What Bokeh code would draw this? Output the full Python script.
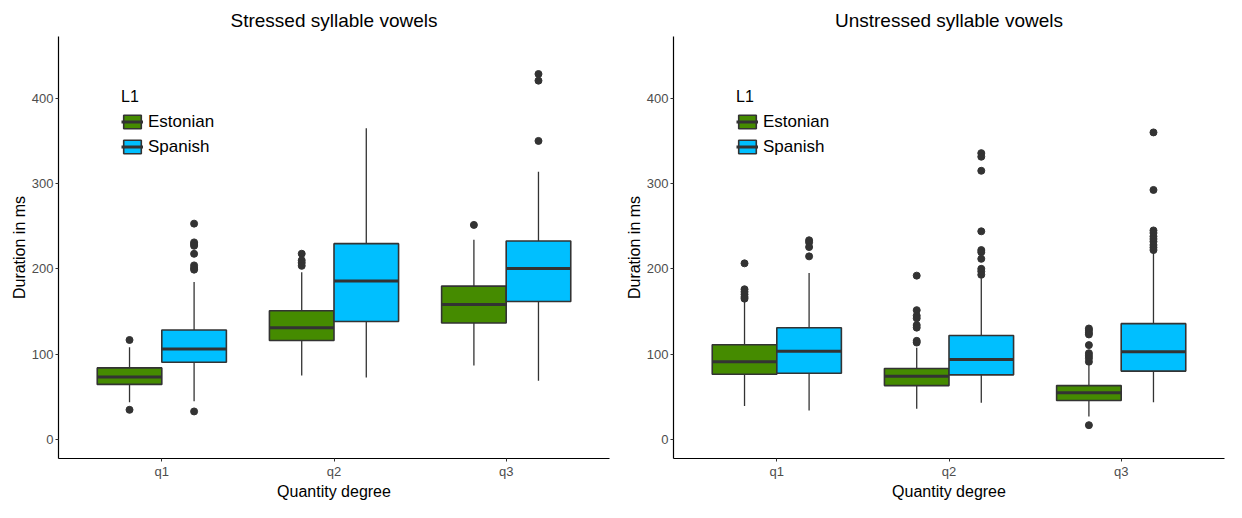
import numpy as np
from bokeh.plotting import figure
from bokeh.models import Range1d, FixedTicker, Legend, LegendItem, ColumnDataSource
from bokeh.layouts import row
from bokeh.embed import file_html
from bokeh.resources import INLINE

categories = ["q1", "q2", "q3"]
groups = ["Estonian", "Spanish"]
colors = ["#458B00", "#00BFFF"]
y_ticks = [0, 100, 200, 300, 400]

# ---- Stressed syllable vowels ----
st_est_low = [43.6, 74.8, 86.5]
st_est_q1 = [64.4, 116.0, 136.5]
st_est_med = [73.0, 131.0, 158.0]
st_est_q3 = [83.8, 150.8, 179.7]
st_est_high = [108.0, 196.0, 234.0]
st_est_out = [[116.5, 34.6], [217.7, 210.0, 207.0, 203.5], [251.5]]

st_spa_low = [44.8, 72.5, 68.8]
st_spa_q1 = [90.4, 138.2, 161.6]
st_spa_med = [105.9, 185.7, 200.4]
st_spa_q3 = [128.2, 229.5, 232.7]
st_spa_high = [184.6, 365.0, 314.0]
st_spa_out = [[253.0, 231.0, 229.0, 227.0, 217.6, 204.0, 201.0, 199.0, 32.7], [], [428.5, 420.7, 350.0]]

# ---- Unstressed syllable vowels ----
un_est_low = [39.0, 36.0, 26.7]
un_est_q1 = [76.3, 63.0, 45.5]
un_est_med = [91.0, 74.0, 54.5]
un_est_q3 = [110.9, 83.0, 63.0]
un_est_high = [161.0, 107.5, 86.8]
un_est_out = [[206.4, 176.0, 173.0, 170.0, 167.0, 165.0],
              [192.0, 151.5, 145.0, 142.0, 134.0, 131.0, 115.5, 113.5],
              [130.0, 128.0, 125.0, 123.0, 110.5, 101.0, 98.0, 95.0, 91.0, 16.6]]

un_spa_low = [33.8, 42.9, 43.6]
un_spa_q1 = [77.5, 75.6, 80.0]
un_spa_med = [103.4, 93.6, 102.6]
un_spa_q3 = [130.8, 121.8, 135.7]
un_spa_high = [195.0, 189.0, 219.0]
un_spa_out = [[233.5, 231.0, 225.5, 214.6],
              [335.7, 331.5, 315.0, 244.0, 222.0, 219.5, 211.7, 200.0, 197.0, 193.0],
              [360.0, 292.5, 245.0, 242.0, 238.0, 235.0, 232.0, 228.0, 225.0, 222.0]]

FONT = "Liberation Sans"
EDGE = "#333333"


def make_panel(title, series, width, border_left, border_right):
    p = figure(width=width, height=502, output_backend="svg", toolbar_location=None,
               x_range=Range1d(0.4, 3.6), y_range=Range1d(-22.5, 472.5),
               min_border_left=border_left, min_border_right=border_right,
               min_border_top=36, min_border_bottom=20)
    p.title.text = title
    p.title.align = "center"
    p.title.text_font = FONT
    p.title.text_font_size = "19px"
    p.title.text_font_style = "normal"
    p.title.text_color = "black"
    p.title.standoff = 11
    p.xgrid.visible = False
    p.ygrid.visible = False
    p.outline_line_color = None

    items = []
    dodge = [-0.1875, 0.1875]
    base = np.arange(1, len(categories) + 1)
    for gi, (name, low, q1, med, q3, high, outs) in enumerate(series):
        x = base + dodge[gi]
        src = ColumnDataSource(dict(x=x, left=x - 0.1875, right=x + 0.1875,
                                    low=low, q1=q1, med=med, q3=q3, high=high))
        p.segment(x0="x", y0="q3", x1="x", y1="high", source=src, line_color=EDGE, line_width=1.3)
        p.segment(x0="x", y0="low", x1="x", y1="q1", source=src, line_color=EDGE, line_width=1.3)
        box = p.quad(left="left", right="right", bottom="q1", top="q3", source=src,
                     fill_color=colors[gi], line_color=EDGE, line_width=1.6)
        medr = p.segment(x0="left", y0="med", x1="right", y1="med", source=src,
                         line_color=EDGE, line_width=3)
        ox, oy = [], []
        for ci, vals in enumerate(outs):
            ox += [x[ci]] * len(vals)
            oy += list(vals)
        p.scatter(ox, oy, size=7, color=EDGE)
        items.append(LegendItem(label=name, renderers=[box, medr]))

    legend = Legend(items=items, location=(63, 300), title="L1",
                    title_text_font=FONT, title_text_font_size="16px", title_text_font_style="normal",
                    title_text_color="black",
                    title_standoff=4, label_text_font=FONT, label_text_font_size="17px",
                    label_text_color="black",
                    label_height=23, glyph_height=17, glyph_width=22, spacing=2,
                    label_standoff=5, padding=0, margin=0,
                    border_line_color=None, background_fill_alpha=0)
    p.add_layout(legend)

    for ax in (p.xaxis, p.yaxis):
        ax.axis_line_color = "black"
        ax.axis_line_width = 1.2
        ax.major_tick_line_color = EDGE
        ax.major_tick_out = 3
        ax.major_tick_in = 0
        ax.minor_tick_line_color = None
        ax.major_label_text_font = FONT
        ax.major_label_text_font_size = "13px"
        ax.major_label_text_color = "#4D4D4D"
        ax.major_label_standoff = 2
        ax.axis_label_text_font = FONT
        ax.axis_label_text_font_size = "16px"
        ax.axis_label_text_font_style = "normal"
        ax.axis_label_text_color = "black"
        ax.axis_label_standoff = 1
    p.xaxis.ticker = FixedTicker(ticks=list(base))
    p.xaxis.major_label_overrides = {int(b): c for b, c in zip(base, categories)}
    p.yaxis.ticker = FixedTicker(ticks=y_ticks)
    p.xaxis.axis_label = "Quantity degree"
    p.yaxis.axis_label = "Duration in ms"
    return p


left = make_panel("Stressed syllable vowels", [
    (groups[0], st_est_low, st_est_q1, st_est_med, st_est_q3, st_est_high, st_est_out),
    (groups[1], st_spa_low, st_spa_q1, st_spa_med, st_spa_q3, st_spa_high, st_spa_out),
], 612, 58, 3)
right = make_panel("Unstressed syllable vowels", [
    (groups[0], un_est_low, un_est_q1, un_est_med, un_est_q3, un_est_high, un_est_out),
    (groups[1], un_spa_low, un_spa_q1, un_spa_med, un_spa_q3, un_spa_high, un_spa_out),
], 614, 61, 2)

layout = row(left, right)
open("out.html", "w").write(file_html(layout, INLINE))
